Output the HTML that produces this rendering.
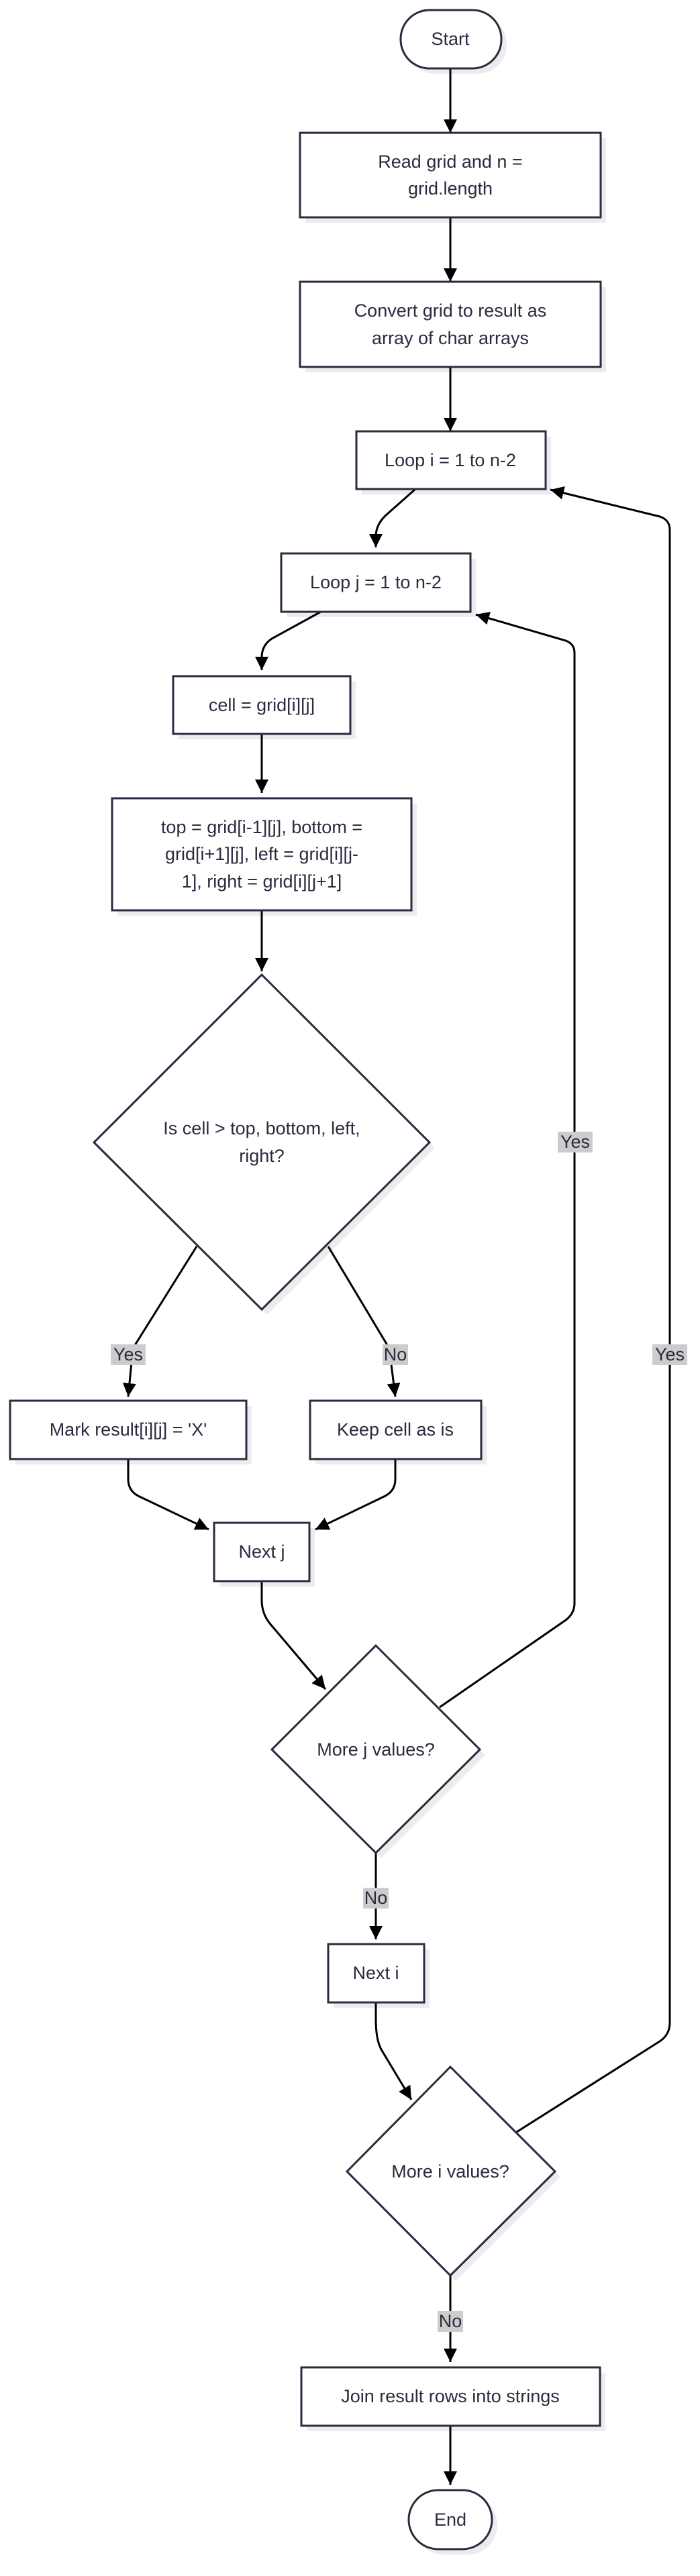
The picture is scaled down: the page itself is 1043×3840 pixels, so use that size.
<!DOCTYPE html>
<html><head><meta charset="utf-8"><style>
html,body{margin:0;padding:0;background:#fff;}
svg{display:block;}
text{font-family:"Liberation Sans",sans-serif;font-size:27px;fill:#2b2b3f;text-anchor:middle;dominant-baseline:central;}
.n{fill:#fff;stroke:#2b2b3f;stroke-width:3;}
.s{fill:#ececee;stroke:none;}
.e{fill:none;stroke:#000;stroke-width:3;}
.lb{fill:#cccccc;}
</style></head><body>
<svg width="1043" height="3840" viewBox="0 0 1043 3840" xmlns="http://www.w3.org/2000/svg">
<defs>
<marker id="a" markerUnits="userSpaceOnUse" markerWidth="24" markerHeight="24" refX="20" refY="10" orient="auto"><path d="M0,0 L20,10 L0,20 Z" fill="#000"/></marker>
</defs>
<rect class="s" x="605" y="23" width="150" height="87" rx="43"/>
<rect class="s" x="455" y="206" width="448" height="126"/>
<rect class="s" x="455" y="428" width="448" height="127"/>
<rect class="s" x="539" y="651" width="282" height="86"/>
<rect class="s" x="427" y="833" width="282" height="87"/>
<rect class="s" x="266" y="1016" width="264" height="86"/>
<rect class="s" x="175" y="1198" width="446" height="167"/>
<polygon class="s" points="398,1461 648,1711 398,1960 148,1711"/>
<rect class="s" x="23" y="2096" width="352" height="87"/>
<rect class="s" x="470" y="2096" width="255" height="87"/>
<rect class="s" x="327" y="2278" width="142" height="87"/>
<polygon class="s" points="568,2461 723,2616 568,2770 413,2616"/>
<rect class="s" x="497" y="2906" width="143" height="87"/>
<polygon class="s" points="679,3089 835,3245 679,3400 525,3245"/>
<rect class="s" x="457" y="3537" width="445" height="87"/>
<rect class="s" x="617" y="3720" width="124" height="88" rx="44"/>
<path class="e" marker-end="url(#a)" d="M671,102 L671,198"/>
<path class="e" marker-end="url(#a)" d="M671,324 L671,420"/>
<path class="e" marker-end="url(#a)" d="M671,547 L671,643"/>
<path class="e" marker-end="url(#a)" d="M619,729 L575,768 Q560,782 560,800 L560,816"/>
<path class="e" marker-end="url(#a)" d="M478,912 L405,952 Q390,962 390,980 L390,999"/>
<path class="e" marker-end="url(#a)" d="M390,1094 L390,1182"/>
<path class="e" marker-end="url(#a)" d="M390,1357 L390,1448"/>
<path class="e" marker-end="url(#a)" d="M293,1858 L198,2010 L191,2082"/>
<path class="e" marker-end="url(#a)" d="M489,1858 L580,2010 L589,2082"/>
<path class="e" marker-end="url(#a)" d="M191,2175 L191,2205 Q191,2222 206,2230 L311,2280"/>
<path class="e" marker-end="url(#a)" d="M589,2175 L589,2205 Q589,2222 574,2230 L470,2280"/>
<path class="e" marker-end="url(#a)" d="M390,2357 L390,2385 Q390,2405 402,2420 L485,2518"/>
<path class="e" marker-end="url(#a)" d="M655,2545 L843,2415 Q856,2405 856,2390 L856,973 Q856,960 843,955 L709,916"/>
<path class="e" marker-end="url(#a)" d="M560,2762 L560,2891"/>
<path class="e" marker-end="url(#a)" d="M560,2985 L560,3010 Q560,3040 568,3055 L613,3130"/>
<path class="e" marker-end="url(#a)" d="M770,3178 L983,3043 Q998,3033 998,3015 L998,790 Q998,775 983,770 L820,730"/>
<path class="e" marker-end="url(#a)" d="M671,3392 L671,3521"/>
<path class="e" marker-end="url(#a)" d="M671,3616 L671,3704"/>
<rect class="n" x="597" y="15" width="150" height="87" rx="43"/>
<text x="671" y="58">Start</text>
<rect class="n" x="447" y="198" width="448" height="126"/>
<text x="671" y="241">Read grid and n =</text>
<text x="671" y="281">grid.length</text>
<rect class="n" x="447" y="420" width="448" height="127"/>
<text x="671" y="463">Convert grid to result as</text>
<text x="671" y="504">array of char arrays</text>
<rect class="n" x="531" y="643" width="282" height="86"/>
<text x="671" y="686">Loop i = 1 to n-2</text>
<rect class="n" x="419" y="825" width="282" height="87"/>
<text x="560" y="868">Loop j = 1 to n-2</text>
<rect class="n" x="258" y="1008" width="264" height="86"/>
<text x="390" y="1051">cell = grid[i][j]</text>
<rect class="n" x="167" y="1190" width="446" height="167"/>
<text x="390" y="1233">top = grid[i-1][j], bottom =</text>
<text x="390" y="1273">grid[i+1][j], left = grid[i][j-</text>
<text x="390" y="1314">1], right = grid[i][j+1]</text>
<polygon class="n" points="390,1453 640,1703 390,1952 140,1703"/>
<text x="390" y="1682">Is cell &gt; top, bottom, left,</text>
<text x="390" y="1723">right?</text>
<rect class="n" x="15" y="2088" width="352" height="87"/>
<text x="191" y="2131">Mark result[i][j] = 'X'</text>
<rect class="n" x="462" y="2088" width="255" height="87"/>
<text x="589" y="2131">Keep cell as is</text>
<rect class="n" x="319" y="2270" width="142" height="87"/>
<text x="390" y="2313">Next j</text>
<polygon class="n" points="560,2453 715,2608 560,2762 405,2608"/>
<text x="560" y="2608">More j values?</text>
<rect class="n" x="489" y="2898" width="143" height="87"/>
<text x="560" y="2941">Next i</text>
<polygon class="n" points="671,3081 827,3237 671,3392 517,3237"/>
<text x="671" y="3237">More i values?</text>
<rect class="n" x="449" y="3529" width="445" height="87"/>
<text x="671" y="3572">Join result rows into strings</text>
<rect class="n" x="609" y="3712" width="124" height="88" rx="44"/>
<text x="671" y="3756">End</text>
<rect class="lb" x="165" y="2004" width="52" height="31"/><text x="191" y="2019">Yes</text>
<rect class="lb" x="570" y="2004" width="38" height="31"/><text x="589" y="2019">No</text>
<rect class="lb" x="831" y="1687" width="52" height="31"/><text x="857" y="1702">Yes</text>
<rect class="lb" x="972" y="2004" width="52" height="31"/><text x="998" y="2019">Yes</text>
<rect class="lb" x="541" y="2814" width="38" height="31"/><text x="560" y="2829">No</text>
<rect class="lb" x="652" y="3445" width="38" height="31"/><text x="671" y="3460">No</text>
</svg>
</body></html>
